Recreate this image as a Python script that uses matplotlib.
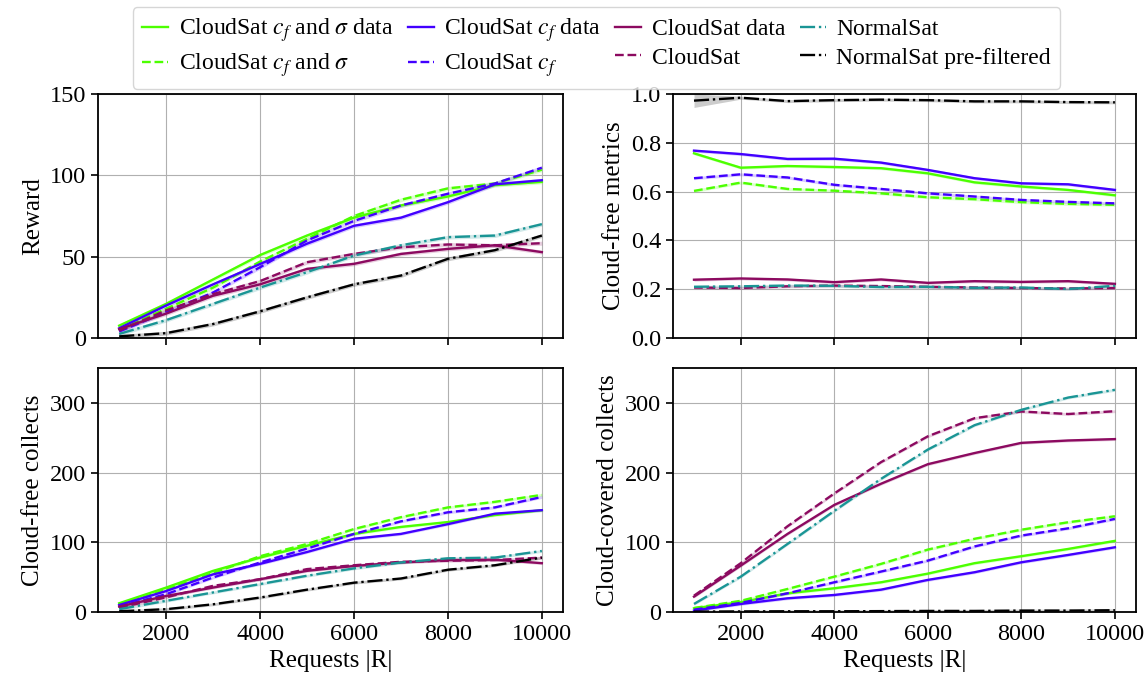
import matplotlib
matplotlib.use("Agg")
import matplotlib.pyplot as plt
import numpy as np

plt.rcParams['font.family'] = ['Liberation Serif', 'DejaVu Serif']
plt.rcParams['mathtext.fontset'] = 'stix'
plt.rcParams['font.size'] = 17

requests = [1000, 2000, 3000, 4000, 5000, 6000, 7000, 8000, 9000, 10000]

labels = [r"CloudSat $c_f$ and $\sigma$ data", r"CloudSat $c_f$ and $\sigma$",
          r"CloudSat $c_f$ data", r"CloudSat $c_f$",
          "CloudSat data", "CloudSat",
          "NormalSat", "NormalSat pre-filtered"]

# Reward
reward_cfs_data = [7.6, 21, 36, 51, 63, 74, 81.5, 87, 94, 96]
reward_cfs = [5, 18, 31, 47, 61, 75, 85, 92, 95, 103.5]
reward_cf_data = [6, 20, 33, 45.5, 58, 69, 74, 83.5, 94.5, 97]
reward_cf = [4, 16, 28, 43.5, 60, 72, 81.5, 88.7, 95, 104.7]
reward_cs_data = [5.5, 15, 26, 33, 42.5, 45.6, 51.7, 54.8, 57, 52.8]
reward_cs = [4.5, 17, 27, 35, 46.6, 51.7, 55.8, 57.5, 57, 58.3]
reward_ns = [2.5, 11, 21, 31, 40.5, 50.7, 57, 62, 63, 70]
reward_nspf = [1, 3, 8.6, 16.4, 25, 33, 38.4, 48.7, 54, 63]

# Cloud-free metrics
cfm_cfs_data = [0.757, 0.698, 0.705, 0.701, 0.696, 0.675, 0.638, 0.621, 0.607, 0.585]
cfm_cfs = [0.603, 0.637, 0.611, 0.604, 0.593, 0.577, 0.569, 0.557, 0.550, 0.546]
cfm_cf_data = [0.768, 0.754, 0.734, 0.735, 0.719, 0.689, 0.655, 0.634, 0.630, 0.607]
cfm_cf = [0.655, 0.671, 0.658, 0.628, 0.611, 0.593, 0.580, 0.566, 0.558, 0.552]
cfm_cs_data = [0.239, 0.244, 0.240, 0.229, 0.240, 0.226, 0.233, 0.230, 0.233, 0.222]
cfm_cs = [0.207, 0.205, 0.212, 0.215, 0.213, 0.210, 0.207, 0.205, 0.203, 0.205]
cfm_ns = [0.210, 0.212, 0.215, 0.214, 0.209, 0.210, 0.206, 0.207, 0.201, 0.214]
cfm_nspf = [0.973, 0.985, 0.971, 0.975, 0.977, 0.975, 0.970, 0.970, 0.967, 0.966]

# Cloud-free collects
cfc_cfs_data = [12.5, 35, 59, 78, 95, 112, 122, 129, 139, 146]
cfc_cfs = [9.6, 32, 56, 80, 97.6, 119, 136, 150, 158, 168]
cfc_cf_data = [10, 30, 54, 69, 86, 105, 112, 126, 141, 146]
cfc_cf = [7.7, 25.5, 49.5, 71, 91, 112, 130, 143, 150, 165]
cfc_cs_data = [7.7, 23, 35, 47, 59, 66, 71, 74.5, 75, 70]
cfc_cs = [6, 21, 37.5, 47, 61.5, 67, 72, 73.5, 74.5, 78]
cfc_ns = [4, 16, 28, 40, 52, 62.5, 71, 77, 78, 87.5]
cfc_nspf = [1, 4, 11, 20.7, 32, 42, 48, 60.6, 67, 78]

# Cloud-covered collects
ccc_cfs_data = [5.3, 14, 26.8, 34, 42.6, 55, 70, 80, 90.4, 102]
ccc_cfs = [5.7, 16, 33, 50.7, 69, 89.5, 105, 118, 128.7, 137.3]
ccc_cf_data = [2, 11.5, 19.6, 24.4, 32, 46, 57, 71.3, 81.8, 92.8]
ccc_cf = [3.3, 13, 26.8, 42.6, 58, 73.7, 94, 109.6, 120, 133.5]
ccc_cs_data = [22, 66.5, 112, 153.6, 184, 212, 228, 242.6, 246, 248]
ccc_cs = [23.4, 70, 123, 170, 215, 252, 278, 287.6, 284, 288]
ccc_ns = [11.5, 50.7, 97.6, 145, 191, 233, 268, 290, 307.6, 318.7]
ccc_nspf = [0.5, 0.8, 1, 1, 1.2, 1.5, 1.5, 2, 2, 2.5]

green = '#4cff00'
blue = '#4200ff'
purple = '#8c0a60'
teal = '#1a9595'
styles = [(green, '-'), (green, '--'), (blue, '-'), (blue, '--'),
          (purple, '-'), (purple, '--'), (teal, '-.'), ('black', '-.')]

panels = [
    ("Reward", [reward_cfs_data, reward_cfs, reward_cf_data, reward_cf,
                reward_cs_data, reward_cs, reward_ns, reward_nspf], (0, 150), [0, 50, 100, 150], 1.2),
    ("Cloud-free metrics", [cfm_cfs_data, cfm_cfs, cfm_cf_data, cfm_cf,
                            cfm_cs_data, cfm_cs, cfm_ns, cfm_nspf], (0, 1.0),
     [0.0, 0.2, 0.4, 0.6, 0.8, 1.0], 0.006),
    ("Cloud-free collects", [cfc_cfs_data, cfc_cfs, cfc_cf_data, cfc_cf,
                             cfc_cs_data, cfc_cs, cfc_ns, cfc_nspf], (0, 350), [0, 100, 200, 300], 2.0),
    ("Cloud-covered collects", [ccc_cfs_data, ccc_cfs, ccc_cf_data, ccc_cf,
                                ccc_cs_data, ccc_cs, ccc_ns, ccc_nspf], (0, 350), [0, 100, 200, 300], 2.0),
]

fig = plt.figure(figsize=(11.48, 6.83), dpi=100)
positions = [
    [0.0854, 0.5051, 0.4050, 0.3572],
    [0.5862, 0.5051, 0.4033, 0.3572],
    [0.0854, 0.1040, 0.4050, 0.3572],
    [0.5862, 0.1040, 0.4033, 0.3572],
]

handles = []
for i, (ylabel, series, ylim, yticks, band) in enumerate(panels):
    ax = fig.add_axes(positions[i])
    for j, (vals, (c, ls)) in enumerate(zip(series, styles)):
        v = np.array(vals, dtype=float)
        b = band
        lo = v - b
        hi = v + b
        if i == 1 and j == 7:
            lo = lo.copy(); hi = hi.copy()
            lo[0] = 0.945; hi[0] = 1.0
        ax.fill_between(requests, lo, hi, color=c, alpha=0.2, lw=0)
        ln, = ax.plot(requests, v, color=c, ls=ls, lw=1.7, label=labels[j])
        if i == 0:
            handles.append(ln)
    ax.set_ylim(*ylim)
    ax.set_yticks(yticks)
    ax.set_xticks([2000, 4000, 6000, 8000, 10000])
    ax.grid(True, color='#b0b0b0', lw=0.8)
    ax.set_axisbelow(True)
    ax.set_ylabel(ylabel, fontsize=18)
    ax.tick_params(direction='out', length=5, width=1.2, labelsize=17.5)
    for s in ax.spines.values():
        s.set_linewidth(1.3)
    if i < 2:
        ax.set_xticklabels([])
    else:
        ax.set_xlabel("Requests |R|", fontsize=18)
    if i == 1:
        ax.set_yticklabels(["0.0", "0.2", "0.4", "0.6", "0.8", "1.0"])

fig.legend(handles=handles, labels=labels, ncol=4, loc='upper center',
           bbox_to_anchor=(0.5196, 1.0), fontsize=17, handlelength=1.1,
           columnspacing=0.6, handletextpad=0.45, labelspacing=0.3,
           borderaxespad=0.3, frameon=True, edgecolor='#cccccc', fancybox=True)

fig.savefig("out.png", dpi=100)
